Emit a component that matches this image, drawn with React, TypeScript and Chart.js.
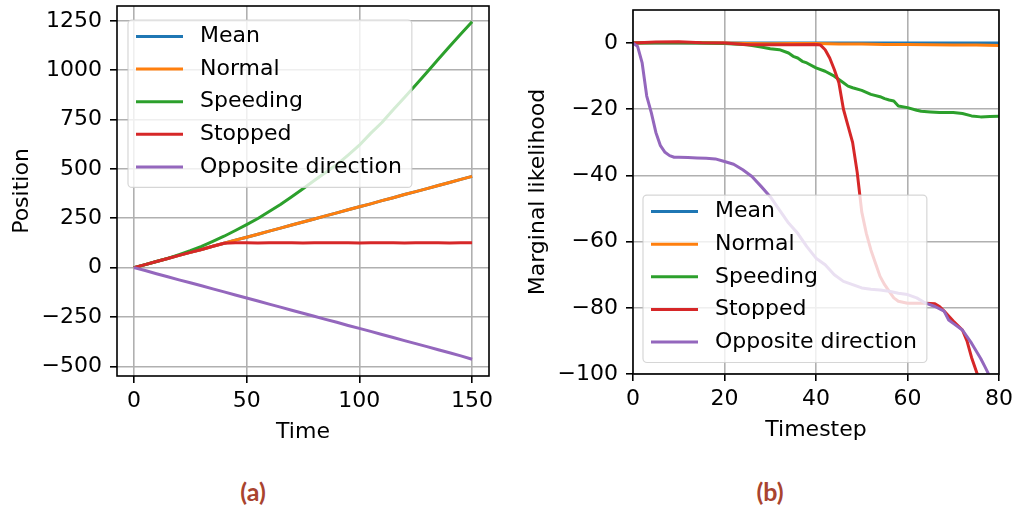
import React, { useEffect, useRef } from "react";
import { Chart, registerables } from "chart.js";

Chart.register(...registerables);

const FONT_FAMILY = "'DejaVu Sans', 'Liberation Sans', sans-serif";
const FONT_SIZE = 22;

const SERIES_NAMES = ["Mean", "Normal", "Speeding", "Stopped", "Opposite direction"];
const SERIES_COLORS = ["#1f77b4", "#ff7f0e", "#2ca02c", "#d62728", "#9467bd"];

// ---------- (a) Position vs Time ----------
const timeValues = [0, 5, 10, 15, 20, 25, 30, 35, 40, 45, 50, 55, 60, 65, 70, 75, 80, 85, 90, 95, 100, 105, 110, 115, 120, 125, 130, 135, 140, 145, 150];
const meanPosition = [0, 15, 31, 46, 62, 77, 92, 108, 123, 139, 154, 169, 185, 200, 216, 231, 246, 262, 277, 293, 308, 323, 339, 354, 370, 385, 400, 416, 431, 447, 462];
const normalPosition = [0, 15, 31, 46, 62, 77, 92, 108, 123, 139, 154, 169, 185, 200, 216, 231, 246, 262, 277, 293, 308, 323, 339, 354, 370, 385, 400, 416, 431, 447, 462];
const speedingPosition = [0, 15, 31, 47, 66, 86, 108, 133, 159, 188, 218, 249, 284, 320, 359, 399, 441, 482, 522, 570, 620, 680, 735, 800, 862, 925, 990, 1055, 1120, 1183, 1245];
const stoppedPosition = [0, 15, 31, 46, 62, 77, 92, 108, 123, 126, 126, 125, 126, 126, 126, 125, 126, 126, 126, 126, 125, 126, 126, 126, 125, 126, 126, 126, 125, 126, 126];
const oppositePosition = [0, -15, -31, -46, -62, -77, -92, -108, -123, -139, -154, -169, -185, -200, -216, -231, -246, -262, -277, -293, -308, -323, -339, -354, -370, -385, -400, -416, -431, -447, -464];
const timeTicks = [0, 50, 100, 150];
const positionTicks = [-500, -250, 0, 250, 500, 750, 1000, 1250];

// ---------- (b) Marginal likelihood vs Timestep ----------
const meanSteps = [0, 10, 20, 30, 40, 50, 60, 70, 80];
const meanLikelihood = [0, 0, 0, 0, 0, 0, 0, 0, 0];
const normalSteps = [0, 5, 10, 15, 20, 25, 30, 35, 40, 45, 50, 55, 60, 65, 70, 75, 80];
const normalLikelihood = [0, 0.1, 0.2, 0.1, 0, -0.1, -0.2, -0.1, -0.1, -0.3, -0.3, -0.4, -0.4, -0.5, -0.6, -0.6, -0.7];
const speedingSteps = [0, 5, 10, 15, 20, 22, 25, 28, 30, 32, 34, 35, 36, 37, 38, 40, 42, 44, 45, 46, 47, 48, 50, 52, 54, 55, 56, 57, 58, 60, 62, 63, 65, 67, 70, 72, 74, 76, 78, 80];
const speedingLikelihood = [0, 0.1, 0.1, 0, -0.1, -0.3, -0.5, -1.2, -1.7, -2, -3, -4, -4.5, -5.5, -6, -7.5, -8.5, -10, -11, -12, -13, -13.5, -14.3, -15.5, -16.2, -16.8, -17.2, -17.5, -19, -19.5, -20.3, -20.6, -20.8, -21, -21, -21.3, -22, -22.3, -22.2, -22.1];
const stoppedSteps = [0, 5, 10, 15, 20, 25, 30, 35, 40, 41, 42, 43, 44, 45, 46, 47, 48, 49, 50, 51, 52, 53, 54, 55, 56, 57, 58, 60, 62, 64, 66, 67, 68, 70, 72, 73, 74, 75, 76, 77];
const stoppedLikelihood = [0, 0.3, 0.4, 0.1, 0, -0.5, -0.5, -0.5, -0.4, -0.6, -2, -4.5, -8, -12, -20, -25, -30, -39, -51, -57.5, -62.5, -66.5, -70.5, -73, -75, -77, -78, -78.6, -78.6, -78.6, -78.8, -79.6, -81, -84, -86.7, -90, -95, -99, -103, -108];
const oppositeSteps = [0, 1, 2, 3, 4, 5, 6, 7, 8, 9, 10, 12, 14, 16, 18, 20, 22, 24, 26, 28, 30, 32, 34, 36, 38, 40, 42, 44, 46, 48, 50, 52, 54, 56, 58, 60, 62, 64, 66, 68, 69, 70, 72, 74, 76, 77, 78, 79];
const oppositeLikelihood = [0, -1, -6, -16, -21, -27, -31, -33, -34, -34.5, -34.5, -34.6, -34.7, -34.8, -35, -35.8, -36.6, -38.3, -40.3, -43.3, -46.4, -50.4, -54.4, -57.5, -61.5, -65, -67, -70, -72, -73, -74, -74.4, -74.6, -75, -75.6, -76, -77, -78.6, -79.6, -81, -83.7, -84.7, -86.7, -90.7, -95.3, -98, -100.8, -104];
const timestepTicks = [0, 20, 40, 60, 80];
const likelihoodTicks = [-100, -80, -60, -40, -20, 0];

const CAPTIONS = ["(a)", "(b)"];

function fmt(v: number): string {
  return v < 0 ? "\u2212" + Math.abs(v) : String(v);
}

function toPoints(xs: number[], ys: number[]) {
  return xs.map((x, i) => ({ x, y: ys[i] }));
}

function makeDatasets(series: { xs: number[]; ys: number[] }[]) {
  return series.map((s, i) => ({
    label: SERIES_NAMES[i],
    data: toPoints(s.xs, s.ys),
    borderColor: SERIES_COLORS[i],
    backgroundColor: SERIES_COLORS[i],
    borderWidth: 3,
    pointRadius: 0,
    tension: 0,
    fill: false,
    clip: 0,
    borderJoinStyle: "round" as const,
    order: series.length - i,
  }));
}

const framePlusLegend = {
  id: "framePlusLegend",
  afterDatasetsDraw(chart: any, _args: any, opts: any) {
    const { ctx, chartArea } = chart;
    ctx.save();
    // spines
    ctx.strokeStyle = "#000";
    ctx.lineWidth = 1.6;
    ctx.strokeRect(chartArea.left, chartArea.top, chartArea.right - chartArea.left, chartArea.bottom - chartArea.top);

    // legend
    ctx.font = `${FONT_SIZE}px ${FONT_FAMILY}`;
    const datasets = chart.data.datasets;
    const names: string[] = datasets.map((d: any) => d.label);
    const maxW = Math.max(...names.map((n) => ctx.measureText(n).width));
    const rowH = 32.6;
    const padTop = 16.5;
    const padBottom = 20.5;
    const h = padTop + rowH * (names.length - 1) + padBottom;
    const w = 72 + maxW + 10;
    const x0 = chartArea.left + opts.offsetX;
    const y0 = opts.anchor === "top" ? chartArea.top + opts.offsetY : chartArea.bottom - opts.offsetY - h;
    ctx.beginPath();
    if (ctx.roundRect) ctx.roundRect(x0, y0, w, h, 4);
    else ctx.rect(x0, y0, w, h);
    ctx.fillStyle = "rgba(255,255,255,0.8)";
    ctx.fill();
    ctx.strokeStyle = "rgba(204,204,204,0.8)";
    ctx.lineWidth = 1.2;
    ctx.stroke();
    names.forEach((n, i) => {
      const y = y0 + padTop + i * rowH;
      ctx.beginPath();
      ctx.moveTo(x0 + 8, y);
      ctx.lineTo(x0 + 55, y);
      ctx.strokeStyle = datasets[i].borderColor;
      ctx.lineWidth = 3;
      ctx.stroke();
      ctx.fillStyle = "#000";
      ctx.textBaseline = "middle";
      ctx.textAlign = "left";
      ctx.fillText(n, x0 + 72, y);
    });
    ctx.restore();
  },
};

function axisCommon(ticksArr: number[], fixedSize: number, isX: boolean, title: string, titlePad: number, tickPad: number) {
  return {
    type: "linear" as const,
    afterBuildTicks: (s: any) => {
      s.ticks = ticksArr.map((v) => ({ value: v }));
    },
    afterFit: (s: any) => {
      if (isX) s.height = fixedSize;
      else s.width = fixedSize;
      s.paddingLeft = 0;
      s.paddingRight = 0;
      s.paddingTop = 0;
      s.paddingBottom = 0;
    },
    grid: {
      color: "#b0b0b0",
      lineWidth: 1.6,
      tickColor: "#000",
      tickLength: 7,
      tickWidth: 1.6,
    },
    border: { display: false },
    ticks: {
      font: { family: FONT_FAMILY, size: FONT_SIZE },
      color: "#000",
      padding: tickPad,
      maxRotation: 0,
      autoSkip: false,
      callback: (v: any) => fmt(Number(v)),
    },
    title: {
      display: true,
      text: title,
      color: "#000",
      font: { family: FONT_FAMILY, size: FONT_SIZE },
      padding: isX ? { top: 0, bottom: titlePad } : { top: titlePad, bottom: 0 },
    },
  };
}

function LineChart(props: { config: any; style: React.CSSProperties; width: number; height: number }) {
  const ref = useRef<HTMLCanvasElement | null>(null);
  useEffect(() => {
    if (!ref.current) return;
    const chart = new Chart(ref.current, props.config);
    return () => chart.destroy();
  }, []);
  return <canvas ref={ref} width={props.width} height={props.height} style={{ ...props.style, width: props.width, height: props.height }} />;
}

const configA = {
  type: "line",
  data: {
    datasets: makeDatasets([
      { xs: timeValues, ys: meanPosition },
      { xs: timeValues, ys: normalPosition },
      { xs: timeValues, ys: speedingPosition },
      { xs: timeValues, ys: stoppedPosition },
      { xs: timeValues, ys: oppositePosition },
    ]),
  },
  options: {
    animation: false,
    responsive: false,
    devicePixelRatio: 1,
    layout: { padding: { left: 0, right: 11, top: 6, bottom: 0 } },
    plugins: { legend: { display: false }, tooltip: { enabled: false }, framePlusLegend: { anchor: "top", offsetX: 11, offsetY: 14 } },
    scales: {
      x: { ...axisCommon(timeTicks, 84, true, "Time", 15, 5), min: -7.5, max: 157.5 },
      y: { ...axisCommon(positionTicks, 117, false, "Position", 9, 8), min: -549, max: 1325 },
    },
  },
  plugins: [framePlusLegend],
};

const configB = {
  type: "line",
  data: {
    datasets: makeDatasets([
      { xs: meanSteps, ys: meanLikelihood },
      { xs: normalSteps, ys: normalLikelihood },
      { xs: speedingSteps, ys: speedingLikelihood },
      { xs: stoppedSteps, ys: stoppedLikelihood },
      { xs: oppositeSteps, ys: oppositeLikelihood },
    ]),
  },
  options: {
    animation: false,
    responsive: false,
    devicePixelRatio: 1,
    layout: { padding: { left: 0, right: 17, top: 10, bottom: 0 } },
    plugins: { legend: { display: false }, tooltip: { enabled: false }, framePlusLegend: { anchor: "bottom", offsetX: 10, offsetY: 11.5 } },
    scales: {
      x: { ...axisCommon(timestepTicks, 86, true, "Timestep", 17, 5), min: 0, max: 80 },
      y: { ...axisCommon(likelihoodTicks, 133, false, "Marginal likelihood", 25, 8), min: -100, max: 10 },
    },
  },
  plugins: [framePlusLegend],
};

const captionStyle: React.CSSProperties = {
  position: "absolute",
  top: 476,
  transform: "translateX(-50%)",
  fontFamily: "Lato, 'Open Sans', sans-serif",
  fontWeight: 700,
  fontSize: 25,
  lineHeight: "30px",
  color: "#a9442f",
  whiteSpace: "nowrap",
};

export default function App() {
  return (
    <div style={{ position: "fixed", left: 0, top: 0, width: 1016, height: 506, background: "#fff", overflow: "hidden" }}>
      <LineChart config={configA} width={500} height={460} style={{ position: "absolute", left: 0, top: 0 }} />
      <LineChart config={configB} width={516} height={460} style={{ position: "absolute", left: 500, top: 0 }} />
      <div style={{ ...captionStyle, left: 253 }}>{CAPTIONS[0]}</div>
      <div style={{ ...captionStyle, left: 770 }}>{CAPTIONS[1]}</div>
    </div>
  );
}
